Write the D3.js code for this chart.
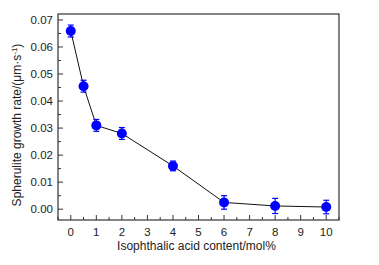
<!DOCTYPE html>
<html lang="en">
<head>
<meta charset="UTF-8">
<script src="https://d3js.org/d3.v7.min.js"></script>
<style>
  body { margin: 0; background: #fff; }
  svg text { font-family: "Liberation Sans", Arial, sans-serif; fill: #222; }
</style>
</head>
<body>
<svg width="379" height="265"></svg>
<script>
const content = [0, 0.5, 1, 2, 4, 6, 8, 10];
const rate = [0.0659, 0.0455, 0.031, 0.028, 0.016, 0.0025, 0.0012, 0.0008];
const err = [0.0022, 0.0022, 0.0022, 0.0022, 0.0018, 0.0025, 0.0028, 0.0025];
const xTicks = [0, 1, 2, 3, 4, 5, 6, 7, 8, 9, 10];
const yTicks = [0, 0.01, 0.02, 0.03, 0.04, 0.05, 0.06, 0.07];

const data = content.map((c, i) => ({ c, r: rate[i], e: err[i] }));

const svg = d3.select("svg");
const L = 58, T = 14, R = 339, B = 220;

const x = d3.scaleLinear().domain([-0.5, 10.5]).range([L, R]);
const y = d3.scaleLinear().domain([-0.004, 0.0722]).range([B, T]);

// bottom axis, ticks inward
const xMinor = d3.range(-0.5, 10.51, 0.5).filter(v => !xTicks.includes(v));
svg.append("g").selectAll("line.minor").data(xMinor).enter().append("line")
  .attr("x1", d => x(d)).attr("x2", d => x(d))
  .attr("y1", B).attr("y2", B - 3)
  .attr("stroke", "#333");
svg.append("g").selectAll("line.major").data(xTicks).enter().append("line")
  .attr("x1", d => x(d)).attr("x2", d => x(d))
  .attr("y1", B).attr("y2", B - 5)
  .attr("stroke", "#333");
svg.append("g").selectAll("text").data(xTicks).enter().append("text")
  .attr("x", d => x(d)).attr("y", B + 16)
  .attr("text-anchor", "middle").attr("font-size", 11.5)
  .text(d => d);

// left axis
const yMinor = d3.range(-0.005, 0.0721, 0.005).map(v => +v.toFixed(3))
  .filter(v => !yTicks.includes(v) && v > -0.004);
svg.append("g").selectAll("line").data(yMinor).enter().append("line")
  .attr("x1", L).attr("x2", L + 3)
  .attr("y1", d => y(d)).attr("y2", d => y(d))
  .attr("stroke", "#333");
svg.append("g").selectAll("line").data(yTicks).enter().append("line")
  .attr("x1", L).attr("x2", L + 5)
  .attr("y1", d => y(d)).attr("y2", d => y(d))
  .attr("stroke", "#333");
svg.append("g").selectAll("text").data(yTicks).enter().append("text")
  .attr("x", L - 5).attr("y", d => y(d) + 4)
  .attr("text-anchor", "end").attr("font-size", 11.5)
  .text(d => d3.format(".2f")(d));

// frame
svg.append("rect")
  .attr("x", L).attr("y", T).attr("width", R - L).attr("height", B - T)
  .attr("fill", "none").attr("stroke", "#333").attr("stroke-width", 1.2);

// line
svg.append("path").datum(data)
  .attr("fill", "none").attr("stroke", "#111").attr("stroke-width", 1)
  .attr("d", d3.line().x(d => x(d.c)).y(d => y(d.r)));

// error bars
const eb = svg.append("g").attr("stroke", "#0000ff").attr("stroke-width", 1.2);
data.forEach(d => {
  const cx = x(d.c);
  eb.append("line").attr("x1", cx).attr("x2", cx).attr("y1", y(d.r - d.e)).attr("y2", y(d.r + d.e));
  eb.append("line").attr("x1", cx - 3).attr("x2", cx + 3).attr("y1", y(d.r - d.e)).attr("y2", y(d.r - d.e));
  eb.append("line").attr("x1", cx - 3).attr("x2", cx + 3).attr("y1", y(d.r + d.e)).attr("y2", y(d.r + d.e));
});

// points
svg.append("g").selectAll("circle").data(data).enter().append("circle")
  .attr("cx", d => x(d.c)).attr("cy", d => y(d.r)).attr("r", 5)
  .attr("fill", "#0000ff");

// axis titles
svg.append("text")
  .attr("x", (L + R) / 2 - 2).attr("y", 250)
  .attr("text-anchor", "middle").attr("font-size", 12)
  .text("Isophthalic acid content/mol%");

svg.append("text")
  .attr("transform", `translate(21,${(T + B) / 2 + 8}) rotate(-90)`)
  .attr("text-anchor", "middle").attr("font-size", 12)
  .html("Spherulite growth rate/(μm·s<tspan dy='-4' font-size='8'>-1</tspan><tspan dy='4'>)</tspan>");
</script>
</body>
</html>
